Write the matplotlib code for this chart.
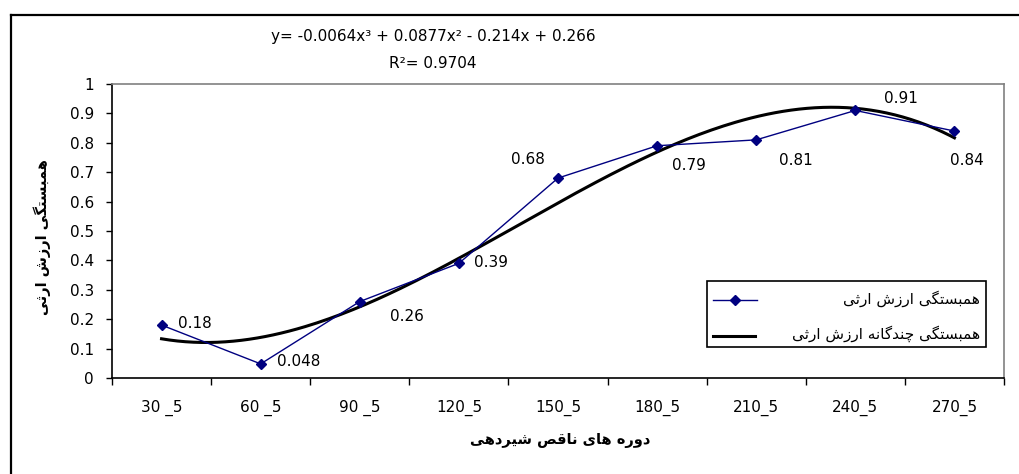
import numpy as np
import matplotlib
matplotlib.use("Agg")
import matplotlib.pyplot as plt
from matplotlib.lines import Line2D
from matplotlib.patches import Rectangle

plt.rcParams['font.family'] = ['DejaVu Sans']

# ---------------- data ----------------
categories = ["30 _5", "60 _5", "90 _5", "120_5", "150_5", "180_5", "210_5", "240_5", "270_5"]
values = [0.18, 0.048, 0.26, 0.39, 0.68, 0.79, 0.81, 0.91, 0.84]
value_labels = ["0.18", "0.048", "0.26", "0.39", "0.68", "0.79", "0.81", "0.91", "0.84"]
y_ticks = [0, 0.1, 0.2, 0.3, 0.4, 0.5, 0.6, 0.7, 0.8, 0.9, 1]
y_tick_labels = ["0", "0.1", "0.2", "0.3", "0.4", "0.5", "0.6", "0.7", "0.8", "0.9", "1"]
equation_text = "y= -0.0064x³ + 0.0877x² - 0.214x + 0.266"
r2_text = "R²= 0.9704"
series_name = "همبستگی ارزش ارثی"
trend_name = "همبستگی چندگانه ارزش ارثی"
y_title = "همبستگی ارزش ارثی"
x_title = "دوره های ناقص شیردهی"

# ---------- simple Persian shaping (presentation forms) + visual order ----------
F = {
    '\u0627': ('\uFE8D', '\uFE8E', None, None),
    '\u0628': ('\uFE8F', '\uFE90', '\uFE91', '\uFE92'),
    '\u062A': ('\uFE95', '\uFE96', '\uFE97', '\uFE98'),
    '\u062B': ('\uFE99', '\uFE9A', '\uFE9B', '\uFE9C'),
    '\u062F': ('\uFEA9', '\uFEAA', None, None),
    '\u0631': ('\uFEAD', '\uFEAE', None, None),
    '\u0632': ('\uFEAF', '\uFEB0', None, None),
    '\u0633': ('\uFEB1', '\uFEB2', '\uFEB3', '\uFEB4'),
    '\u0634': ('\uFEB5', '\uFEB6', '\uFEB7', '\uFEB8'),
    '\u0635': ('\uFEB9', '\uFEBA', '\uFEBB', '\uFEBC'),
    '\u0642': ('\uFED5', '\uFED6', '\uFED7', '\uFED8'),
    '\u0645': ('\uFEE1', '\uFEE2', '\uFEE3', '\uFEE4'),
    '\u0646': ('\uFEE5', '\uFEE6', '\uFEE7', '\uFEE8'),
    '\u0647': ('\uFEE9', '\uFEEA', '\uFEEB', '\uFEEC'),
    '\u0648': ('\uFEED', '\uFEEE', None, None),
    '\u06CC': ('\uFBFC', '\uFBFD', '\uFBFE', '\uFBFF'),
    '\u06AF': ('\uFB92', '\uFB93', '\uFB94', '\uFB95'),
    '\u0686': ('\uFB7A', '\uFB7B', '\uFB7C', '\uFB7D'),
}


def shape(s):
    out = []
    for i, c in enumerate(s):
        if c not in F:
            out.append(c)
            continue
        prev = s[i - 1] if i > 0 else None
        nxt = s[i + 1] if i + 1 < len(s) else None
        jp = prev in F and F[prev][2] is not None
        jn = F[c][2] is not None and nxt in F
        iso, fin, ini, med = F[c]
        if jp and jn:
            out.append(med)
        elif jp:
            out.append(fin)
        elif jn:
            out.append(ini)
        else:
            out.append(iso)
    return ''.join(reversed(out))


W, H = 1019, 474
fig = plt.figure(figsize=(W / 100, H / 100), dpi=100)
fig.patch.set_facecolor('white')

# outer chart frame (left + top visible, right/bottom cut off)
fig.add_artist(Line2D([11 / W, 11 / W], [0, 1 - 15 / H], transform=fig.transFigure, color='black', lw=1.6))
fig.add_artist(Line2D([11 / W, 1], [1 - 15 / H, 1 - 15 / H], transform=fig.transFigure, color='black', lw=1.6))

left, right, top, bottom = 112, 1004, 84, 378
ax = fig.add_axes([left / W, 1 - bottom / H, (right - left) / W, (bottom - top) / H])

x = np.arange(len(categories))
ax.plot(x, values, color='#000080', lw=1.0, marker='D', markersize=5.5,
        markerfacecolor='#000080', markeredgecolor='#000080', zorder=3)

# polynomial (order 3) trend line
coef = np.polyfit(x + 1, values, 3)
xs = np.linspace(1, len(categories), 200)
ax.plot(xs - 1, np.polyval(coef, xs), color='black', lw=2.2, zorder=2)

# data labels (offsets in pixels)
offsets = [(33, 2), (38, 2), (47, -15), (32, 1), (-30, 19), (32, -20), (40, -21), (46, 12), (12, -29)]
for xi, v, lab, off in zip(x, values, value_labels, offsets):
    ax.annotate(lab, (xi, v), xytext=off, textcoords='offset pixels',
                ha='center', va='center', fontsize=11, color='black')

ax.set_xlim(-0.5, len(categories) - 0.5)
ax.set_ylim(0, 1)
ax.set_yticks(y_ticks)
ax.set_yticklabels(y_tick_labels, fontsize=11)
ax.set_xticks(np.arange(len(categories) + 1) - 0.5)
ax.set_xticklabels([])
ax.set_xticks(x, minor=True)
ax.set_xticklabels(categories, minor=True, fontsize=11)
ax.tick_params(axis='x', which='major', direction='out', length=5, width=1, colors='black')
ax.tick_params(axis='x', which='minor', length=0, pad=16)
ax.tick_params(axis='y', direction='out', length=4, width=1, pad=9)

for s in ['left', 'bottom']:
    ax.spines[s].set_color('black')
    ax.spines[s].set_linewidth(1.2)
for s in ['top', 'right']:
    ax.spines[s].set_color('#808080')
    ax.spines[s].set_linewidth(1.2)

# axis titles
fig.text(42 / W, 1 - 237 / H, shape(y_title), rotation=90, ha='center', va='center',
         fontsize=10.5, fontweight='bold')
fig.text(560 / W, 1 - 440 / H, shape(x_title), ha='center', va='center',
         fontsize=10.5, fontweight='bold')

# trend equation
fig.text(433 / W, 1 - 36 / H, equation_text, ha='center', va='center', fontsize=11)
fig.text(433 / W, 1 - 63 / H, r2_text, ha='center', va='center', fontsize=11)

# legend (built by hand so the texts are right-aligned as in the original)
def fx(px):
    return (px - left) / (right - left)


def fy(py):
    return (bottom - py) / (bottom - top)


ax.add_patch(Rectangle((fx(707), fy(347)), fx(986) - fx(707), fy(281) - fy(347),
                       transform=ax.transAxes, facecolor='white', edgecolor='black',
                       lw=1.2, zorder=5))
ax.add_line(Line2D([fx(713), fx(757)], [fy(300), fy(300)], transform=ax.transAxes,
                   color='#000080', lw=1.0, zorder=6))
ax.add_line(Line2D([fx(735)], [fy(300)], transform=ax.transAxes, color='#000080',
                   marker='D', markersize=5.5, zorder=6))
ax.add_line(Line2D([fx(713), fx(755)], [fy(336), fy(336)], transform=ax.transAxes,
                   color='black', lw=2.2, zorder=6))
ax.text(fx(980), fy(299), shape(series_name), transform=ax.transAxes, ha='right', va='center',
        fontsize=11, zorder=7)
ax.text(fx(980), fy(334), shape(trend_name), transform=ax.transAxes, ha='right', va='center',
        fontsize=11, zorder=7)

fig.savefig('out.png', dpi=100, facecolor='white')
